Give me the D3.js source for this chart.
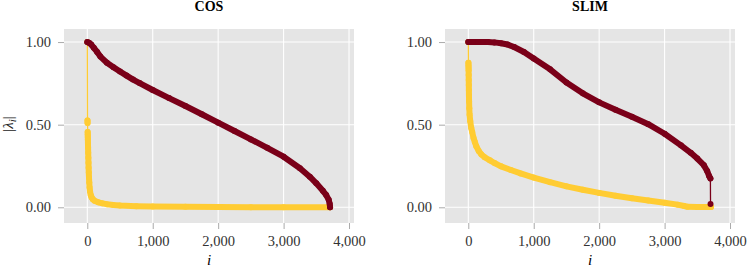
<!DOCTYPE html>
<html>
<head>
<meta charset="utf-8">
<script src="https://cdnjs.cloudflare.com/ajax/libs/d3/7.8.5/d3.min.js"></script>
<style>
  body { margin: 0; background: white; }
</style>
</head>
<body>
<div id="chart"></div>
<script>
// values: [i, |lambda_i|]
var cosHigh = [[0,1.0],[30,0.995],[60,0.985],[100,0.965],[150,0.94],[200,0.912],[300,0.875],[400,0.848],[500,0.822],[600,0.797],[700,0.773],[800,0.752],[1000,0.71],[1250,0.661],[1500,0.613],[1750,0.563],[2000,0.512],[2250,0.462],[2500,0.411],[2750,0.36],[3000,0.306],[3250,0.236],[3400,0.185],[3500,0.145],[3600,0.1],[3650,0.075],[3690,0.045],[3705,0.02],[3710,0.0]];
var cosLow = [[0,1.0],[3,0.525],[4,0.51],[6,0.455],[7,0.44],[8,0.425],[9,0.41],[10,0.39],[12,0.36],[14,0.33],[16,0.3],[18,0.27],[20,0.24],[23,0.21],[26,0.18],[30,0.15],[35,0.12],[42,0.095],[52,0.075],[66,0.06],[85,0.048],[110,0.04],[168,0.03],[230,0.024],[300,0.019],[400,0.014],[500,0.011],[750,0.007],[1000,0.005],[1500,0.003],[2000,0.002],[2500,0.001],[3000,0.001],[3710,0.0]];
var slimHigh = [[0,1.0],[150,1.0],[300,1.0],[400,0.998],[500,0.993],[600,0.985],[700,0.97],[850,0.94],[1000,0.9],[1250,0.835],[1500,0.755],[1750,0.69],[2000,0.635],[2250,0.59],[2500,0.548],[2750,0.503],[3000,0.445],[3250,0.375],[3400,0.33],[3500,0.295],[3600,0.255],[3650,0.22],[3680,0.19],[3700,0.175],[3702,0.02]];
var slimLow = [[0,1.0],[2,0.875],[3,0.86],[4,0.845],[5,0.83],[6,0.8],[7,0.77],[8,0.74],[9,0.71],[10,0.68],[12,0.64],[15,0.6],[20,0.56],[30,0.52],[45,0.48],[60,0.455],[80,0.42],[100,0.395],[122,0.37],[160,0.34],[200,0.32],[250,0.303],[330,0.284],[400,0.268],[500,0.248],[650,0.226],[800,0.205],[1000,0.18],[1250,0.152],[1500,0.127],[1750,0.106],[2000,0.087],[2250,0.07],[2500,0.055],[2750,0.041],[3000,0.028],[3200,0.016],[3300,0.008],[3350,0.003],[3500,0.002],[3710,0.002]];

var xTicks = [0, 1000, 2000, 3000, 4000];
var yTicks = [0, 0.5, 1];
var titles = ["COS", "SLIM"];

var maroon = "#7a0019",
	gold = "#ffcc33";

var width = 747,
	height = 269,
	serif = "Liberation Serif";

var svg = d3.select("#chart").append("svg")
	.attr("width", width)
	.attr("height", height);

/******************************one panel***************************************/
function panel(title, left, high, low){
	var pw = 290, top = 29, bottom = 223;

	var x = d3.scaleLinear().domain([-356, 4076]).range([left, left + pw]);
	var y = d3.scaleLinear().domain([-0.095, 1.079]).range([bottom, top]);

	var g = svg.append("g");

	g.append("rect")
		.attr("x", left).attr("y", top)
		.attr("width", pw).attr("height", bottom - top)
		.attr("fill", "#e5e5e5");

	g.selectAll(".gx").data(xTicks).enter().append("line")
		.attr("x1", function(d){ return x(d); }).attr("x2", function(d){ return x(d); })
		.attr("y1", top).attr("y2", bottom)
		.attr("stroke", "white").attr("stroke-width", 1.1);
	g.selectAll(".gy").data(yTicks).enter().append("line")
		.attr("x1", left).attr("x2", left + pw)
		.attr("y1", function(d){ return y(d); }).attr("y2", function(d){ return y(d); })
		.attr("stroke", "white").attr("stroke-width", 1.1);

	var xa = g.append("g")
		.attr("transform", "translate(0," + bottom + ")")
		.call(d3.axisBottom(x).tickValues(xTicks).tickFormat(d3.format(",")).tickSize(6).tickPadding(6.4));
	var ya = g.append("g")
		.attr("transform", "translate(" + left + ",0)")
		.call(d3.axisLeft(y).tickValues(yTicks).tickFormat(d3.format(".2f")).tickSize(6).tickPadding(7));
	[xa, ya].forEach(function(a){
		a.select(".domain").remove();
		a.selectAll("line").attr("stroke", "#aaa");
		a.selectAll("text")
			.attr("font-family", serif)
			.attr("font-size", 14.5)
			.attr("fill", "#333");
	});

	g.append("text")
		.attr("x", left + pw / 2).attr("y", 10.5)
		.attr("text-anchor", "middle")
		.attr("font-family", serif)
		.attr("font-weight", "bold")
		.attr("font-size", 14)
		.text(title);

	g.append("text")
		.attr("x", left + pw / 2).attr("y", 265)
		.attr("text-anchor", "middle")
		.attr("font-family", serif)
		.attr("font-style", "italic")
		.attr("font-size", 15)
		.text("i");

	series(g, x, y, low, gold);
	series(g, x, y, high, maroon);

	return g;
}

// thin line through every point, thick band where the points sit densely
function series(g, x, y, data, color){
	var line = d3.line()
		.x(function(d){ return x(d[0]); })
		.y(function(d){ return y(d[1]); });

	g.append("path")
		.attr("d", line(data))
		.attr("fill", "none")
		.attr("stroke", color)
		.attr("stroke-width", 1.3);

	var segs = [], cur = [data[0]];
	for (var k = 1; k < data.length; k++) {
		var dx = Math.abs(x(data[k][0]) - x(data[k-1][0])),
			dy = Math.abs(y(data[k][1]) - y(data[k-1][1]));
		if (dx < 2 && dy > 8) { segs.push(cur); cur = [data[k]]; }
		else cur.push(data[k]);
	}
	segs.push(cur);

	g.selectAll(null).data(segs.filter(function(s){ return s.length > 1; }))
		.enter().append("path")
		.attr("d", line)
		.attr("fill", "none")
		.attr("stroke", color)
		.attr("stroke-width", 6)
		.attr("stroke-linecap", "round")
		.attr("stroke-linejoin", "round");

	g.selectAll(null).data(data).enter().append("circle")
		.attr("cx", function(d){ return x(d[0]); })
		.attr("cy", function(d){ return y(d[1]); })
		.attr("r", 3)
		.attr("fill", color);
}

panel(titles[0], 64, cosHigh, cosLow);
panel(titles[1], 445, slimHigh, slimLow);

var yl = svg.append("text")
	.attr("transform", "translate(13,124) rotate(-90)")
	.attr("text-anchor", "middle")
	.attr("font-family", serif)
	.attr("font-size", 15)
	.attr("fill", "#222");
yl.append("tspan").text("|");
yl.append("tspan").attr("font-style", "italic").text("λ");
yl.append("tspan").attr("font-style", "italic").attr("font-size", 11).attr("dy", 3).text("i");
yl.append("tspan").attr("dy", -3).text("|");
</script>
</body>
</html>
